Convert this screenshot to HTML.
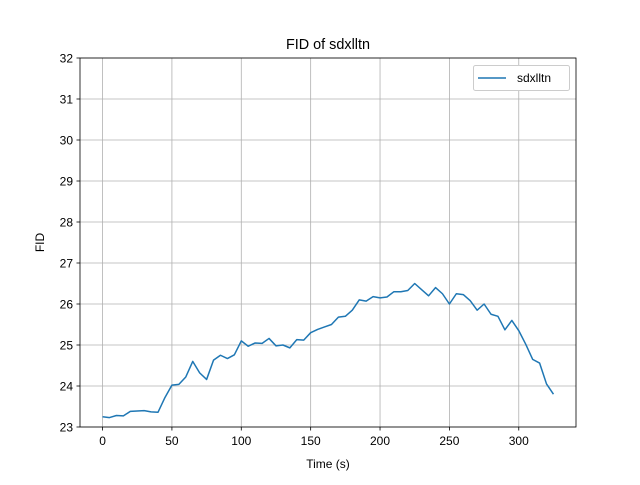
<!DOCTYPE html>
<html><head><meta charset="utf-8"><style>
body{margin:0;background:#fff}
svg text{font-family:"Liberation Sans","DejaVu Sans",sans-serif;fill:#000}
</style></head><body>
<svg width="640" height="480" viewBox="0 0 640 480" xmlns="http://www.w3.org/2000/svg">
<g id="grid"></g>
<rect x="80" y="58" width="496" height="369" fill="none" stroke="#000" stroke-width="0.8"/>
<g id="ticks"></g>
<polyline id="series" fill="none" stroke="#1f77b4" stroke-width="1.5" stroke-linejoin="round"/>
<text x="328" y="49" font-size="14.4" text-anchor="middle">FID of sdxlltn</text>
<text x="328" y="468" font-size="12" text-anchor="middle">Time (s)</text>
<text transform="translate(44,242.5) rotate(-90)" font-size="12" text-anchor="middle">FID</text>
<g>
<rect x="473.5" y="65.5" width="96" height="25" rx="2" fill="#fff" stroke="#ccc"/>
<line x1="478" y1="78" x2="506" y2="78" stroke="#1f77b4" stroke-width="1.5"/>
<text x="517" y="82" font-size="12">sdxlltn</text>
</g>
</svg>
<script>
const times=[0,5,10,15,20,25,30,35,40,45,50,55,60,65,70,75,80,85,90,95,100,105,110,115,120,125,130,135,140,145,150,155,160,165,170,175,180,185,190,195,200,205,210,215,220,225,230,235,240,245,250,255,260,265,270,275,280,285,290,295,300,305,310,315,320,325];
const fid=[23.25,23.23,23.28,23.27,23.38,23.39,23.4,23.37,23.36,23.72,24.02,24.04,24.22,24.6,24.32,24.16,24.63,24.75,24.67,24.76,25.1,24.97,25.05,25.04,25.16,24.98,25.0,24.93,25.13,25.12,25.3,25.38,25.44,25.5,25.68,25.7,25.85,26.1,26.07,26.18,26.15,26.17,26.3,26.3,26.33,26.5,26.35,26.2,26.4,26.25,26.0,26.25,26.23,26.08,25.85,26.0,25.75,25.7,25.37,25.6,25.35,25.02,24.65,24.56,24.05,23.8];
const xTicks=[0,50,100,150,200,250,300];
const yTicks=[23,24,25,26,27,28,29,30,31,32];
const X0=80,X1=576,Y0=427,Y1=58,xmin=-16.25,xmax=341.25,ymin=23,ymax=32;
const sx=v=>X0+(v-xmin)/(xmax-xmin)*(X1-X0);
const sy=v=>Y0-(v-ymin)/(ymax-ymin)*(Y0-Y1);
const NS="http://www.w3.org/2000/svg";
const grid=document.getElementById('grid'),ticks=document.getElementById('ticks');
function mk(tag,attrs,parent){const e=document.createElementNS(NS,tag);for(const k in attrs)e.setAttribute(k,attrs[k]);parent.appendChild(e);return e;}
xTicks.forEach(t=>{const x=sx(t);
 const g=mk('line',{x1:x,x2:x,y1:Y1,y2:Y0,stroke:'#b0b0b0','stroke-width':0.8},grid);
 
 
 const tk=mk('line',{x1:x,x2:x,y1:Y0,y2:Y0+3.5,stroke:'#000','stroke-width':0.8},ticks);
 
 
 const l=mk('text',{x:x,y:Y0+18,'font-size':12,'text-anchor':'middle'},ticks);l.textContent=t;
 
 
});
yTicks.forEach(t=>{const y=sy(t);
 const g=mk('line',{x1:X0,x2:X1,y1:y,y2:y,stroke:'#b0b0b0','stroke-width':0.8},grid);
 
 
 const tk=mk('line',{x1:X0-3.5,x2:X0,y1:y,y2:y,stroke:'#000','stroke-width':0.8},ticks);
 
 
 const l=mk('text',{x:X0-7,y:y+4.5,'font-size':12,'text-anchor':'end'},ticks);l.textContent=t;
 
 
});
document.getElementById('series').setAttribute('points',times.map((t,i)=>sx(t)+','+sy(fid[i])).join(' '));
</script>
</body></html>
